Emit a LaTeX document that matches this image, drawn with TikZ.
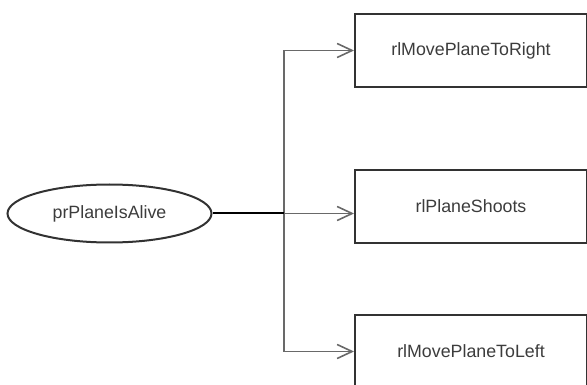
\documentclass[tikz,border=0pt]{standalone}
\usepackage{fontspec}
\setmainfont{Liberation Sans}
\usetikzlibrary{arrows.meta,shapes.geometric}
\definecolor{bord}{RGB}{50,50,50}
\definecolor{conn}{RGB}{105,105,105}
\definecolor{txt}{RGB}{60,60,60}
\begin{document}
\begin{tikzpicture}[x=1pt,y=-1pt,
  every node/.style={font=\fontsize{17.8}{20}\selectfont, text=txt},
  usecase/.style={ellipse, draw=bord, line width=2pt, minimum width=204pt, minimum height=58pt, inner sep=0pt},
  rulebox/.style={rectangle, draw=bord, line width=2pt, minimum width=232pt, minimum height=73pt, inner sep=0pt},
  link/.style={draw=conn, line width=1.6pt, -{Straight Barb[length=15pt,width=14pt]}},
  stem/.style={draw=black, line width=2pt}]
\useasboundingbox (0,0) rectangle (587,385);
\clip (0,0) rectangle (587,385);
\node[usecase] (e) at (109.5,213.5) {prPlaneIsAlive};
\node[rulebox] (b1) at (471,50.5) {rlMovePlaneToRight};
\node[rulebox] (b2) at (471,206.5) {rlPlaneShoots};
\node[rulebox] (b3) at (471,351.5) {rlMovePlaneToLeft};
\coordinate (j) at (284,213.5);
\draw[link] (j) |- (b1.west);
\draw[link] (j) |- (b3.west);
\draw[link] (j) -- (b2.west |- j);
\draw[stem] (e.east) -- (j);
\end{tikzpicture}
\end{document}
